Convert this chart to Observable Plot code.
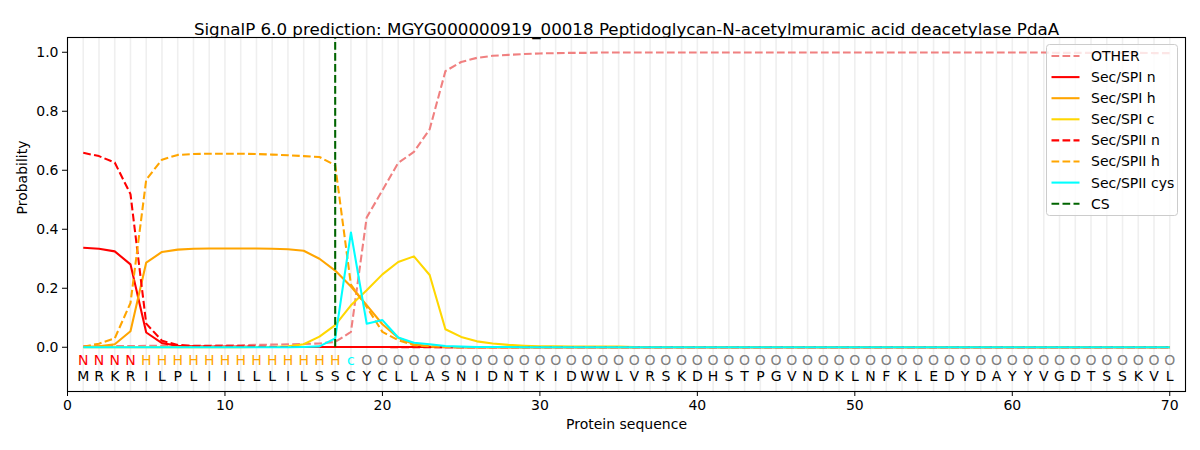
<!DOCTYPE html>
<html><head><meta charset="utf-8">
<script src="https://cdn.jsdelivr.net/npm/d3@7"></script>
<script src="https://cdn.jsdelivr.net/npm/@observablehq/plot@0.6"></script>
<style>
body{margin:0;background:#fff}
#chart svg{font-family:"DejaVu Sans",sans-serif;background:#fff}
</style>
</head><body><div id="chart"></div>
<script>
const titleText = "SignalP 6.0 prediction: MGYG000000919_00018 Peptidoglycan-N-acetylmuramic acid deacetylase PdaA";
const sequence = "MRKRILPLIILLLILSSCYCLLASNIDNTKIDWWLVRSKDHSTPGVNDKLNFKLEDYDAYYVGDTSSKVL".split("");
const regionLabels = ("NNNN" + "HHHHHHHHHHHHH" + "c" +
  "OOOOOOOOOO" + "OOOOOOOOOO" + "OOOOOOOOOO" + "OOOOOOOOOO" + "OOOOOOOOOO" + "OO").split("");
const regionColors = {N: "red", H: "orange", c: "cyan", O: "gray"};
const positions = sequence.map((d, i) => i + 1);
const xTicks = [0, 10, 20, 30, 40, 50, 60, 70];
const yTicks = [0, 0.2, 0.4, 0.6, 0.8, 1.0];
const csPosition = [17];

const OTHER = [0.004,0.004,0.004,0.004,0.005,0.005,0.005,0.006,0.006,0.007,
  0.007,0.008,0.009,0.010,0.011,0.013,0.018,0.052,0.440,0.532,
  0.625,0.662,0.739,0.936,0.967,0.981,0.988,0.991,0.994,0.996,
  0.997,0.998,0.998,0.999,0.999,0.999,0.999,0.999,0.999,0.999,
  0.999,0.999,0.999,0.999,0.999,0.999,0.999,0.999,0.999,0.999,
  0.999,0.999,0.999,0.999,0.999,0.999,0.999,0.999,0.999,0.999,
  0.999,0.999,0.998,0.998,0.998,0.998,0.998,0.998,0.997,0.997];
const SPI_n = [0.337,0.334,0.325,0.281,0.050,0.014,0.005,0.003,0.002,0.002,
  0.002,0.001,0.001,0.001,0.001,0.001,0.001,0.001,0.001,0.001,
  0.001,0.001,0.001,0.000,0.000,0.000,0.000,0.000,0.000,0.000,
  0,0,0,0,0,0,0,0,0,0, 0,0,0,0,0,0,0,0,0,0,
  0,0,0,0,0,0,0,0,0,0, 0,0,0,0,0,0,0,0,0,0];
const SPI_h = [0.001,0.003,0.010,0.054,0.287,0.323,0.331,0.334,0.335,0.335,
  0.335,0.335,0.334,0.332,0.327,0.300,0.260,0.206,0.143,0.078,
  0.032,0.010,0.003,0.001,0.000,0.000,0.000,0.000,0.000,0.000,
  0,0,0,0,0,0,0,0,0,0, 0,0,0,0,0,0,0,0,0,0,
  0,0,0,0,0,0,0,0,0,0, 0,0,0,0,0,0,0,0,0,0];
const SPI_c = [0.000,0.000,0.000,0.000,0.000,0.000,0.000,0.000,0.000,0.000,
  0.000,0.001,0.001,0.003,0.010,0.036,0.075,0.142,0.193,0.247,
  0.289,0.308,0.245,0.061,0.035,0.020,0.013,0.008,0.005,0.003,
  0.003,0.002,0.002,0.002,0.002,0.001,0.001,0.001,0.001,0.001,
  0.001,0.001,0.001,0.001,0.001,0.001,0.001,0.001,0.001,0.001,
  0.001,0.001,0.001,0.001,0.001,0.001,0.001,0.001,0.001,0.001,
  0.001,0.001,0.001,0.001,0.001,0.001,0.001,0.001,0.001,0.001];
const SPII_n = [0.659,0.648,0.626,0.519,0.080,0.022,0.008,0.004,0.003,0.002,
  0.002,0.002,0.001,0.001,0.001,0.001,0.001,0.001,0.001,0.001,
  0.000,0.000,0.000,0.000,0.000,0.000,0.000,0.000,0.000,0.000,
  0,0,0,0,0,0,0,0,0,0, 0,0,0,0,0,0,0,0,0,0,
  0,0,0,0,0,0,0,0,0,0, 0,0,0,0,0,0,0,0,0,0];
const SPII_h = [0.002,0.012,0.030,0.150,0.568,0.636,0.652,0.655,0.656,0.656,
  0.656,0.655,0.653,0.651,0.648,0.645,0.617,0.212,0.137,0.052,
  0.024,0.007,0.003,0.001,0.000,0.000,0.000,0.000,0.000,0.000,
  0,0,0,0,0,0,0,0,0,0, 0,0,0,0,0,0,0,0,0,0,
  0,0,0,0,0,0,0,0,0,0, 0,0,0,0,0,0,0,0,0,0];
const SPII_cys = [0.000,0.000,0.000,0.000,0.000,0.000,0.000,0.000,0.000,0.000,
  0.000,0.000,0.000,0.000,0.001,0.003,0.030,0.389,0.080,0.092,
  0.033,0.015,0.010,0.004,0.002,0.001,0.001,0.001,0.000,0.000,
  0,0,0,0,0,0,0,0,0,0, 0,0,0,0,0,0,0,0,0,0,
  0,0,0,0,0,0,0,0,0,0, 0,0,0,0,0,0,0,0,0,0];

const DASH = "7.7,3.3";
const series = [
  {name: "OTHER", values: OTHER, color: "lightcoral", dash: DASH},
  {name: "Sec/SPI n", values: SPI_n, color: "red", dash: null},
  {name: "Sec/SPI h", values: SPI_h, color: "orange", dash: null},
  {name: "Sec/SPI c", values: SPI_c, color: "gold", dash: null},
  {name: "Sec/SPII n", values: SPII_n, color: "red", dash: DASH},
  {name: "Sec/SPII h", values: SPII_h, color: "orange", dash: DASH},
  {name: "Sec/SPII cys", values: SPII_cys, color: "cyan", dash: null}
];
const legendItems = [...series.map(s => ({name: s.name, color: s.color, dash: s.dash})),
  {name: "CS", color: "darkgreen", dash: DASH}];

const lineMarks = series.map(s => Plot.line(s.values.map((v, i) => ({x: positions[i], y: v})), {
  x: "x", y: "y", stroke: s.color, strokeWidth: 2.08,
  strokeDasharray: s.dash || undefined, strokeLinejoin: "round", strokeLinecap: "butt"
}));

const chart = Plot.plot({
  width: 1200, height: 450,
  marginLeft: 67, marginRight: 15, marginTop: 37, marginBottom: 59,
  style: {fontFamily: "DejaVu Sans", fontSize: "14px", background: "#fff", overflow: "visible"},
  x: {domain: [0, 71], label: null},
  y: {domain: [-0.15, 1.05], label: null},
  marks: [
    Plot.ruleX(positions, {stroke: "#efefef", strokeWidth: 1.6}),
    ...lineMarks,
    Plot.ruleX(csPosition, {y1: 0, y2: 1.05, stroke: "darkgreen", strokeWidth: 2.08, strokeDasharray: DASH}),
    Plot.text(regionLabels, {x: (d, i) => positions[i], frameAnchor: "bottom", dy: -27,
      text: d => d, fill: d => regionColors[d], fontSize: 14}),
    Plot.text(sequence, {x: (d, i) => positions[i], frameAnchor: "bottom", dy: -11,
      text: d => d, fill: "black", fontSize: 14}),
    Plot.frame({stroke: "black", strokeWidth: 1.1}),
    Plot.axisX({ticks: xTicks, tickSize: 5, tickPadding: 4, tickFormat: d3.format("d"), label: null, fontSize: 14}),
    Plot.axisY({ticks: yTicks, tickSize: 5, tickPadding: 4, tickFormat: d3.format(".1f"), label: null, fontSize: 14}),
    Plot.text([titleText], {frameAnchor: "top", dy: -14, fontSize: 16.7, fill: "black"}),
    Plot.text(["Protein sequence"], {frameAnchor: "bottom", dy: 37, fontSize: 14, fill: "black"}),
    Plot.text(["Probability"], {frameAnchor: "left", dx: -45, rotate: -90, fontSize: 14, fill: "black"})
  ]
});
document.getElementById("chart").appendChild(chart);

// legend box (matplotlib style, upper right)
const svg = d3.select(chart);
const lg = svg.append("g").attr("transform", "translate(1046.5,44.5)");
lg.append("rect").attr("width", 131).attr("height", 171).attr("rx", 3)
  .attr("fill", "white").attr("fill-opacity", 0.8).attr("stroke", "#cccccc").attr("stroke-width", 1);
legendItems.forEach((d, i) => {
  const y = 11.5 + i * 21.1;
  lg.append("line").attr("x1", 5).attr("x2", 33).attr("y1", y).attr("y2", y)
    .attr("stroke", d.color).attr("stroke-width", 2.08)
    .attr("stroke-dasharray", d.dash || null);
  lg.append("text").attr("x", 44.5).attr("y", y).attr("dy", "0.35em")
    .attr("text-anchor", "start")
    .attr("font-size", 14).attr("fill", "black").text(d.name);
});
</script>
</body></html>
